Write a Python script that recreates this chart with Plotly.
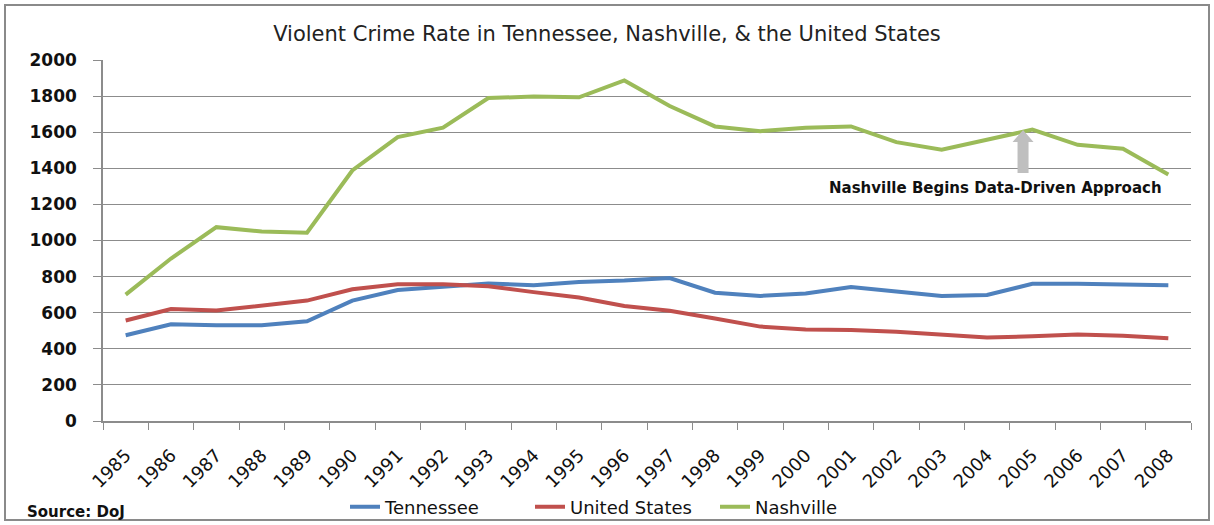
import plotly.graph_objects as go

years = [str(y) for y in range(1985, 2009)]
tennessee = [475, 536, 530, 530, 552, 667, 726, 744, 762, 752, 770, 778, 792, 711, 693, 706, 742, 718, 692, 698, 760, 760, 754, 752]
united_states = [557, 620, 612, 640, 667, 730, 758, 758, 747, 714, 684, 637, 611, 568, 523, 507, 504, 494, 476, 463, 469, 479, 472, 459]
nashville = [700, 900, 1074, 1050, 1043, 1388, 1573, 1625, 1789, 1798, 1793, 1887, 1745, 1632, 1606, 1625, 1632, 1545, 1503, 1558, 1614, 1530, 1508, 1366]

series = [
    ("Tennessee", tennessee, "#4F81BD"),
    ("United States", united_states, "#C0504D"),
    ("Nashville", nashville, "#9BBB59"),
]

fig = go.Figure()
for name, vals, color in series:
    fig.add_trace(go.Scatter(x=years, y=vals, name=name, mode="lines",
                             line=dict(color=color, width=4)))

grid = "#8C8C8C"
fig.update_layout(
    width=1214, height=525,
    margin=dict(l=103, r=23, t=60, b=104, autoexpand=False),
    paper_bgcolor="white", plot_bgcolor="white",
    title=dict(text="Violent Crime Rate in Tennessee, Nashville, & the United States",
               x=0.5, xanchor="center", y=1 - 34 / 525, yanchor="middle",
               font=dict(family="DejaVu Sans", size=21, color="#222222")),
    showlegend=True,
    legend=dict(orientation="h", x=(345 - 103) / 1088, xanchor="left",
                y=1 - 507 / 525, yanchor="middle", yref="container",
                entrywidth=140, entrywidthmode="pixels",
                font=dict(family="DejaVu Sans", size=18, color="#111111"),
                bgcolor="rgba(0,0,0,0)"),
    xaxis=dict(type="category", tickson="boundaries", ticks="outside", ticklen=7,
               tickcolor=grid, showline=True, linecolor=grid, linewidth=1.5,
               showgrid=False, tickangle=-45, automargin=False, ticklabelstandoff=15,
               tickfont=dict(family="DejaVu Sans", size=18, color="#111111"),
               range=[-0.5, 23.5]),
    yaxis=dict(range=[0, 2000], dtick=200, showgrid=True, gridcolor=grid, gridwidth=1.2,
               ticks="outside", ticklen=8, tickcolor=grid, showline=True, automargin=False,
               linecolor=grid, linewidth=1.5, zeroline=False, ticklabelstandoff=13,
               tickfont=dict(family="DejaVu Sans", size=17, color="#111111", weight="bold")),
    shapes=[
        dict(type="rect", xref="paper", yref="paper",
             x0=(5 - 103) / 1088, x1=(1209 - 103) / 1088,
             y0=(421 - 520) / 361, y1=(421 - 5) / 361,
             line=dict(color="#8A8A8A", width=2), layer="below"),
        dict(type="path", xref="x", yref="y", xsizemode="pixel", ysizemode="pixel",
             xanchor=19.795, yanchor=1612,
             path="M 0 0 L 10.5 -12 L 5.5 -12 L 5.5 -43 L -5.5 -43 L -5.5 -12 L -10.5 -12 Z",
             fillcolor="#BFBFBF", line=dict(width=0)),
    ],
)

fig.add_annotation(x=19.18, y=1290, xref="x", yref="y", showarrow=False,
                   text="Nashville Begins Data-Driven Approach",
                   font=dict(family="DejaVu Sans", size=15, color="#111111", weight="bold"))
fig.add_annotation(x=(25 - 103) / 1088, y=(421 - 512) / 361, xref="paper", yref="paper",
                   xanchor="left", yanchor="middle", showarrow=False, text="Source: DoJ",
                   font=dict(family="DejaVu Sans", size=15, color="#111111", weight="bold"))

fig.write_html("out.html", config={"displayModeBar": False},
               post_script="document.body.style.margin='0';")
